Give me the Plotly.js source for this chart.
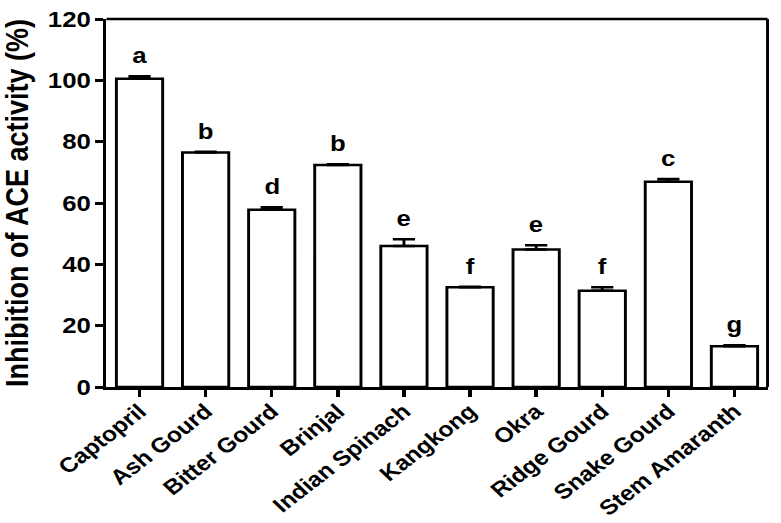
<!DOCTYPE html>
<html>
<head>
<meta charset="utf-8">
<script src="https://cdn.plot.ly/plotly-3.0.1.min.js"></script>
<style>
  html, body { margin: 0; padding: 0; background: #fff; overflow: hidden; }
  #wrap { width: 781px; height: 523px; overflow: hidden; }
  #chart { width: 668px; height: 523px; transform: scaleX(1.17); transform-origin: 0 0; }
</style>
</head>
<body>
<div id="wrap"><div id="chart"></div></div>
<script>
const categories = ['Captopril', 'Ash Gourd', 'Bitter Gourd', 'Brinjal', 'Indian Spinach',
                    'Kangkong', 'Okra', 'Ridge Gourd', 'Snake Gourd', 'Stem Amaranth'];
const values = [100.5, 76.5, 57.8, 72.4, 46.0, 32.5, 44.8, 31.4, 66.9, 13.3];
const errors = [0.8, 0.2, 0.8, 0.2, 2.2, 0.2, 1.4, 1.1, 0.9, 0.3];
const letters = ['a', 'b', 'd', 'b', 'e', 'f', 'e', 'f', 'c', 'g'];
const yTitle = 'Inhibition of ACE activity (%)';

const FONT = 'Liberation Sans, Arial, sans-serif';

const trace = {
  type: 'bar',
  x: categories,
  y: values,
  width: 0.7,
  marker: { color: '#ffffff', line: { color: '#000000', width: 2.5 } },
  error_y: {
    type: 'data',
    symmetric: false,
    array: errors,
    arrayminus: errors.map(() => 0),
    color: '#000000',
    thickness: 2.5,
    width: 9.5
  },
  hoverinfo: 'skip'
};

const annotations = categories.map((c, i) => ({
  x: c,
  y: values[i] + errors[i],
  xref: 'x',
  yref: 'y',
  text: letters[i],
  showarrow: false,
  yanchor: 'bottom',
  yshift: 6,
  font: { family: FONT, size: 22, color: '#000', weight: 700 }
}));

const layout = {
  width: 668,
  height: 523,
  margin: { l: 91, r: 12, t: 19, b: 136 },
  paper_bgcolor: '#ffffff',
  plot_bgcolor: '#ffffff',
  showlegend: false,
  xaxis: {
    type: 'category',
    range: [-0.5, 9.5],
    showgrid: false,
    zeroline: false,
    showline: true,
    linecolor: '#000',
    linewidth: 3,
    ticks: 'outside',
    ticklen: 7,
    tickwidth: 3,
    tickcolor: '#000',
    tickangle: -42,
    ticklabelstandoff: -6,
    automargin: false,
    tickfont: { family: FONT, size: 21, color: '#000', weight: 700 }
  },
  yaxis: {
    range: [0, 120],
    dtick: 20,
    tick0: 0,
    showgrid: false,
    zeroline: false,
    showline: true,
    linecolor: '#000',
    linewidth: 3,
    ticks: 'outside',
    ticklen: 7,
    tickwidth: 3,
    tickcolor: '#000',
    ticklabelstandoff: -1,
    automargin: false,
    tickfont: { family: FONT, size: 22, color: '#000', weight: 700 },
    title: {
      text: yTitle,
      standoff: 9,
      font: { family: FONT, size: 27, color: '#000', weight: 700 }
    }
  },
  shapes: [
    { type: 'line', xref: 'paper', yref: 'paper', x0: 0, x1: 1, y0: 1, y1: 1,
      line: { color: '#000', width: 2.5 } },
    { type: 'line', xref: 'paper', yref: 'paper', x0: 1, x1: 1, y0: 0, y1: 1,
      line: { color: '#000', width: 2.5 } }
  ],
  annotations: annotations
};

Plotly.newPlot('chart', [trace], layout, { staticPlot: true, displayModeBar: false });
</script>
</body>
</html>
